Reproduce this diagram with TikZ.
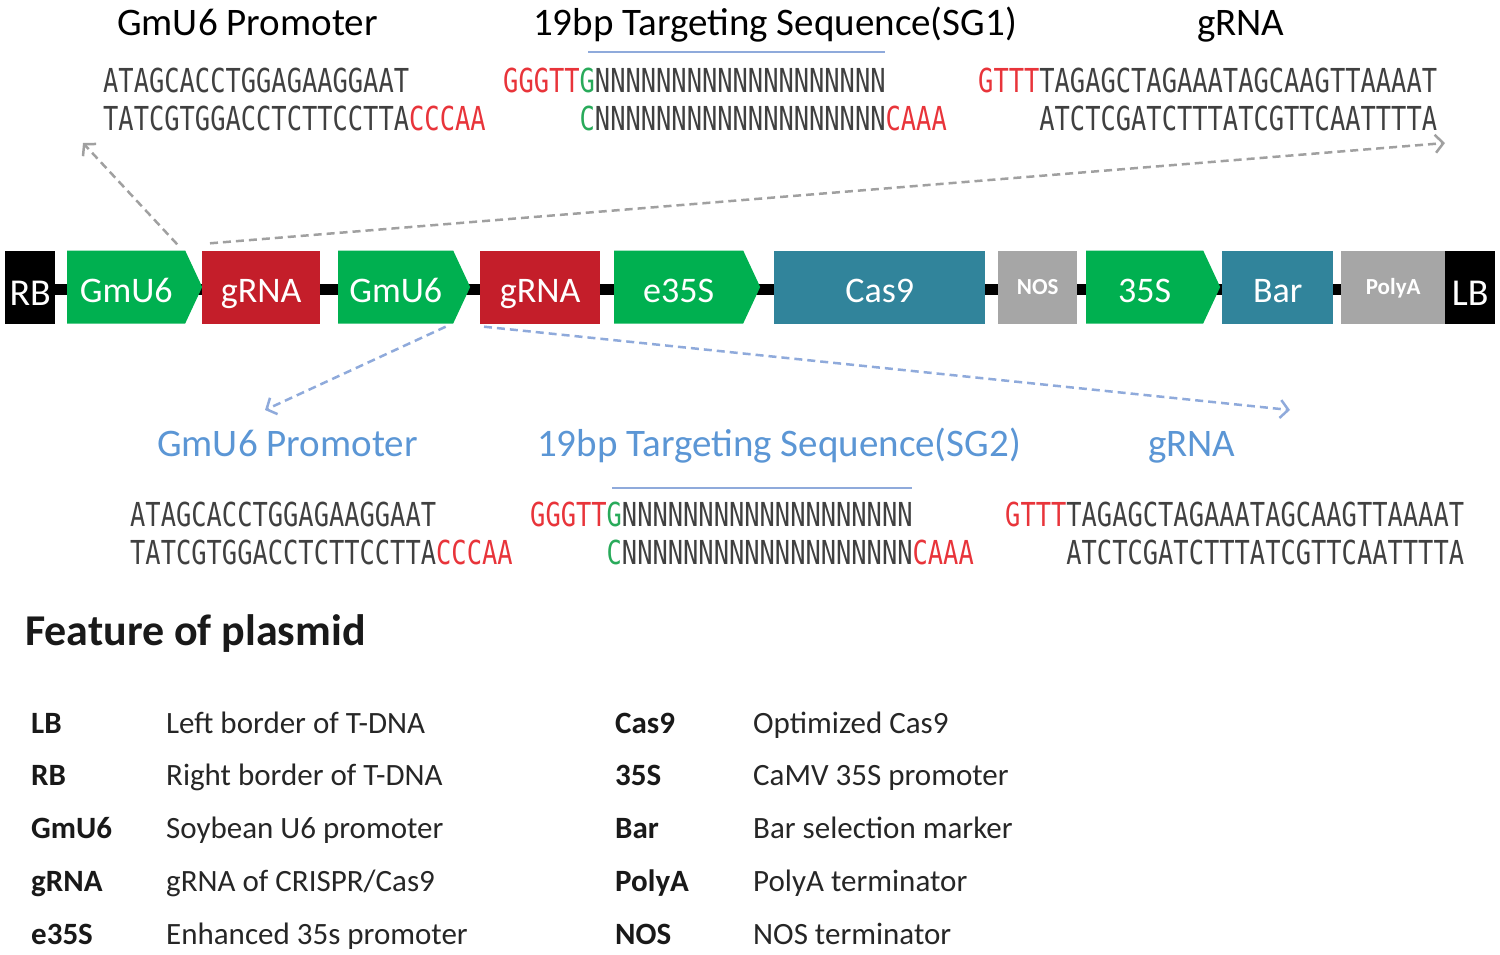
\documentclass[tikz,border=0pt]{standalone}
\usepackage{fontspec}
\setmainfont{Carlito}
\newfontfamily\seqfont[FakeStretch=0.77]{DejaVu Sans Mono}
\usetikzlibrary{shapes.symbols,arrows.meta,backgrounds}

\definecolor{promgreen}{RGB}{0,176,80}
\definecolor{grnared}{RGB}{196,30,42}
\definecolor{casteal}{RGB}{49,132,155}
\definecolor{termgray}{RGB}{166,166,166}
\definecolor{seqred}{RGB}{232,52,58}
\definecolor{seqgreen}{RGB}{40,170,90}
\definecolor{seqgray}{RGB}{64,64,64}
\definecolor{titleblue}{RGB}{91,150,213}
\definecolor{lineblue}{RGB}{143,170,219}
\definecolor{arrowgray}{RGB}{160,160,160}

\begin{document}
\begin{tikzpicture}[x=1pt, y=-1pt,
    block/.style={minimum height=73pt, inner sep=0pt, text=white,
        text height=30pt, text depth=0pt, font=\fontsize{36}{40}\selectfont},
    promoter/.style={block, signal, signal to=east, signal pointer angle=130,
        fill=promgreen},
    grna/.style={block, fill=grnared},
    coding/.style={block, fill=casteal},
    terminator/.style={block, fill=termgray, text height=15pt,
        font=\bfseries\fontsize{23}{28}\selectfont},
    border/.style={block, fill=black, text height=37pt,
        font=\fontsize{38}{42}\selectfont},
    seq/.style={anchor=base west, inner sep=0pt, text=seqgray,
        font=\seqfont\fontsize{33}{36}\selectfont},
    title/.style={anchor=base west, inner sep=0pt, font=\fontsize{39}{44}\selectfont},
    uline/.style={draw=lineblue, line width=2pt},
    link/.style={dashed, dash pattern=on 8pt off 5pt, line width=2.5pt,
        -{Straight Barb[length=8pt, width=18pt]}},
    legkey/.style={anchor=base west, inner sep=0pt, text=black!90,
        font=\bfseries\fontsize{31}{36}\selectfont},
    legtext/.style={anchor=base west, inner sep=0pt, text=black!85,
        font=\fontsize{31}{36}\selectfont}]
    \useasboundingbox (0,0) rectangle (1500,954);

    % plasmid
    \node[border, minimum width=50pt, anchor=west] (rb) at (5,287) {RB};
    \node[promoter, minimum width=135pt, anchor=west] (gmua) at (67,287) {GmU6};
    \node[grna, minimum width=118pt, anchor=west] (grnaa) at (202,287) {gRNA};
    \node[promoter, minimum width=132pt, anchor=west] (gmub) at (338,287) {GmU6};
    \node[grna, minimum width=120pt, anchor=west] (grnab) at (480,287) {gRNA};
    \node[promoter, minimum width=146pt, anchor=west] (e35s) at (614,287) {e35S};
    \node[coding, minimum width=211pt, anchor=west] (cas9) at (774,287) {Cas9};
    \node[terminator, minimum width=79pt, anchor=west] (nos) at (998,287) {NOS};
    \node[promoter, minimum width=134pt, anchor=west] (p35s) at (1086,287) {35S};
    \node[coding, minimum width=111pt, anchor=west] (bar) at (1222,287) {Bar};
    \node[terminator, minimum width=104pt, anchor=west] (polya) at (1341,287) {PolyA};
    \node[border, minimum width=50pt, anchor=west] (lb) at (1445,287) {LB};

    \begin{scope}[on background layer]
    \draw[line width=11pt] ([yshift=-2pt]rb.east) -- ([yshift=-2pt]lb.west);
    \end{scope}

    % titles
    \node[title] (promtitlea) at (117,35) {GmU6 Promoter};
    \node[title] (seqtitlea) at (533,35) {19bp Targeting Sequence(SG1)};
    \node[title] (grnatitlea) at (1197,35) {gRNA};
    \node[title, text=titleblue] (promtitleb) at (157,456) {GmU6 Promoter};
    \node[title, text=titleblue] (seqtitleb) at (537,456) {19bp Targeting Sequence(SG2)};
    \node[title, text=titleblue] (grnatitleb) at (1148,456) {gRNA};
    \draw[uline] (588,52) -- (885,52);
    \draw[uline] (612,488) -- (912,488);

    % sequences
    \foreach \dx/\dy/\sg in {0/0/a, 27/434/b}{
    \begin{scope}[shift={(\dx,\dy)}]
    \node[seq] (promseq\sg) at (103,92) {ATAGCACCTGGAGAAGGAAT};
    \node[seq] (promrev\sg) at (103,130)
        {TATCGTGGACCTCTTCCTTA\textcolor{seqred}{CCCAA}};
    \node[seq] (targetseq\sg) at (503,92)
        {\textcolor{seqred}{GGGTT}\textcolor{seqgreen}{G}NNNNNNNNNNNNNNNNNNN};
    \node[seq] (targetrev\sg) at (503,130)
        {\phantom{GGGTT}\textcolor{seqgreen}{C}NNNNNNNNNNNNNNNNNNN\textcolor{seqred}{CAAA}};
    \node[seq] (grnaseq\sg) at (978,92)
        {\textcolor{seqred}{GTTT}TAGAGCTAGAAATAGCAAGTTAAAAT};
    \node[seq] (grnarev\sg) at (978,130)
        {\phantom{GTTT}ATCTCGATCTTTATCGTTCAATTTTA};
    \end{scope}
    }

    % zoom links
    \coordinate (promtipa) at (83,143);
    \coordinate (grnatipa) at (1445,143);
    \coordinate (promtipb) at (265,410);
    \coordinate (grnatipb) at (1290,410);
    \draw[link, arrowgray] ([xshift=51pt, yshift=6pt]gmua.north) -- (promtipa);
    \draw[link, arrowgray] ([xshift=8pt, yshift=7pt]grnaa.north west) -- (grnatipa);
    \draw[link, lineblue] ([xshift=50pt, yshift=-3pt]gmub.south) -- (promtipb);
    \draw[link, lineblue] ([xshift=4pt, yshift=-3pt]grnab.south west) -- (grnatipb);

    % legend
    \node[anchor=base west, inner sep=0pt, text=black!90,
        font=\bfseries\fontsize{44}{48}\selectfont] (feature) at (25,645) {Feature of plasmid};
    \foreach \key/\desc [count=\i] in {LB/Left border of T-DNA, RB/Right border of T-DNA,
        GmU6/Soybean U6 promoter, gRNA/{gRNA of CRISPR/Cas9}, e35S/Enhanced 35s promoter}{
        \node[legkey] (leftkey\i) at (31,{733+52.75*(\i-1)}) {\key};
        \node[legtext] (lefttext\i) at (166,{733+52.75*(\i-1)}) {\desc};
    }
    \foreach \key/\desc [count=\i] in {Cas9/Optimized Cas9, 35S/CaMV 35S promoter,
        Bar/Bar selection marker, PolyA/PolyA terminator, NOS/NOS terminator}{
        \node[legkey] (rightkey\i) at (615,{733+52.75*(\i-1)}) {\key};
        \node[legtext] (righttext\i) at (753,{733+52.75*(\i-1)}) {\desc};
    }
\end{tikzpicture}
\end{document}
